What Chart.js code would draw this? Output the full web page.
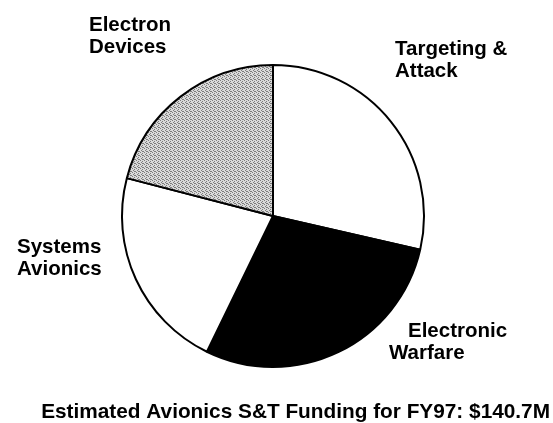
<!DOCTYPE HTML>
<html lang="en">
<head>
  <meta http-equiv="content-type" content="text/html; charset=UTF-8">
  <script src="https://cdn.jsdelivr.net/npm/chart.js@4/dist/chart.umd.min.js"></script>
  <style>
    html, body { margin:0; padding:0; background:#fff; }
    #wrap { width:553px; height:423px; }
  </style>
</head>
<body>
  <div id="wrap"><canvas id="chart_pie" width="553" height="423"></canvas></div>

  <script>
    // Data (FY97, $M) //
    const categories = ['Targeting &\nAttack', 'Electronic\nWarfare', 'Systems\nAvionics', 'Electron\nDevices'];
    const funding = [40.2, 40.3, 30.7, 29.5];
    const titleText = 'Estimated Avionics S&T Funding for FY97: $140.7M';

    // label placement: left x of each line, baseline of first line
    const labelLeft = [[395, 395], [408, 389], [17, 17], [89, 89]];
    const labelBase = [55, 337, 253, 31];
    const lineGap = 21.5;
    const font = 'bold 20.5px "Liberation Sans", Arial, sans-serif';
    const titleFont = 'bold 20.8px "Liberation Sans", Arial, sans-serif';

    // stippled gray fill
    function stipple() {
        const c = document.createElement('canvas');
        c.width = 4; c.height = 4;
        const g = c.getContext('2d');
        g.fillStyle = '#dadada';
        g.fillRect(0, 0, 4, 4);
        g.fillStyle = '#7c7c7c';
        [[0,0],[2,1],[1,2],[3,3],[2,3]].forEach(p => g.fillRect(p[0], p[1], 1, 1));
        return g.createPattern(c, 'repeat');
    }
    const colors = ['#ffffff', '#000000', '#ffffff', stipple()];

    const textPlugin = {
        id: 'pieText',
        afterDraw(chart) {
            const ctx = chart.ctx;
            ctx.save();
            ctx.font = font;
            ctx.fillStyle = '#000';
            ctx.textBaseline = 'alphabetic';
            ctx.textAlign = 'left';
            categories.forEach((lab, i) => {
                lab.split('\n').forEach((line, j) => {
                    ctx.fillText(line, labelLeft[i][j], labelBase[i] + j * lineGap);
                });
            });
            ctx.font = titleFont;
            ctx.textAlign = 'right';
            ctx.fillText(titleText, 550, 418);
            ctx.restore();
        }
    };

    new Chart(document.getElementById('chart_pie'), {
        type: 'pie',
        data: {
            labels: categories,
            datasets: [{
                data: funding,
                backgroundColor: colors,
                borderColor: '#000',
                borderWidth: 2,
            }],
        },
        options: {
            responsive: false,
            animation: false,
            events: [],
            layout: { padding: { left: 121, right: 128, top: 64, bottom: 55 } },
            plugins: { legend: { display: false }, tooltip: { enabled: false } },
        },
        plugins: [textPlugin],
    });
  </script>
</body>
</html>
